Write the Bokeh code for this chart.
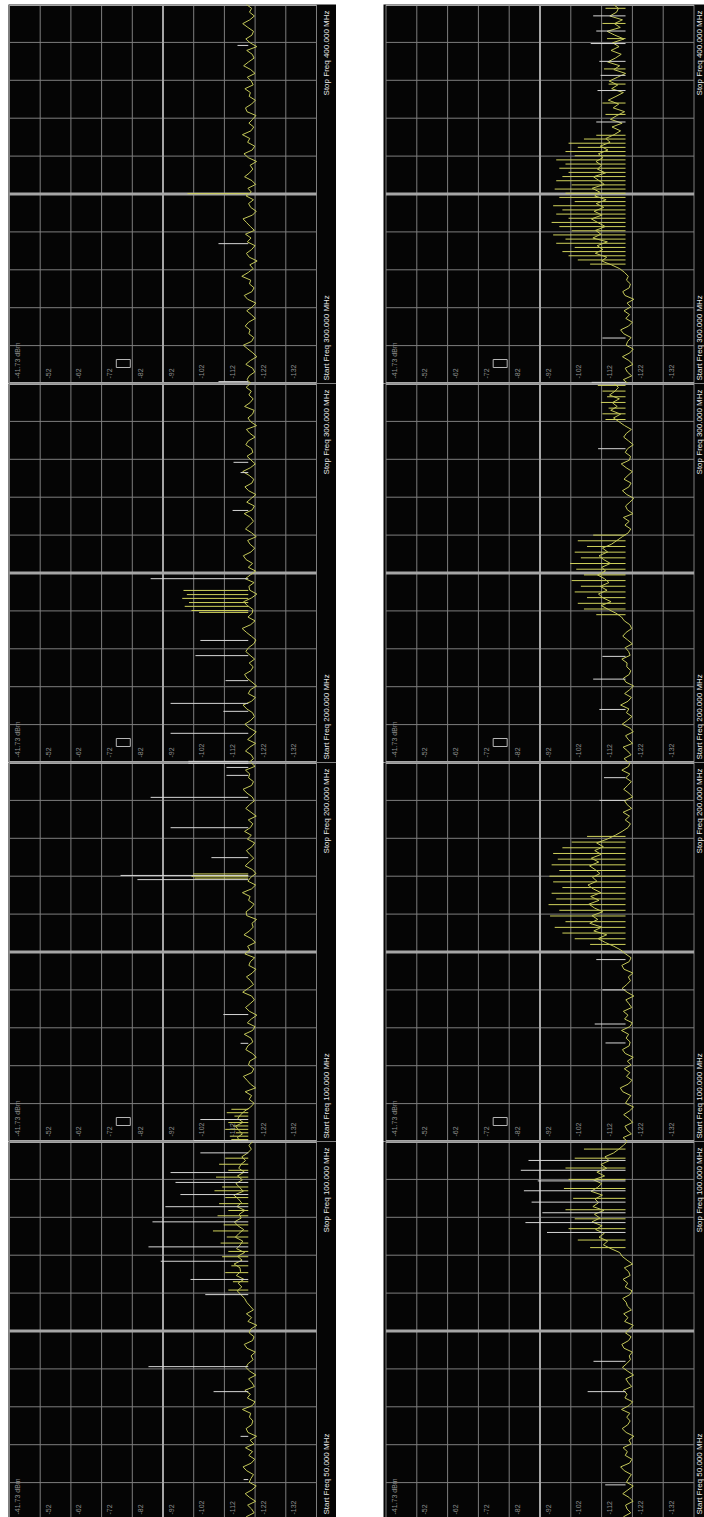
import numpy as np
from bokeh.plotting import figure
from bokeh.layouts import row, column
from bokeh.models import Range1d, Spacer
from bokeh.core.properties import value
from bokeh.embed import file_html
from bokeh.resources import INLINE

# ------------------------------------------------------------------ data
amp_grid = [-41.73, -51.73, -61.73, -71.73, -81.73, -91.73, -101.73,
            -111.73, -121.73, -131.73, -141.73]
amp_labels = ["-41.73 dBm", "-52", "-62", "-72", "-82", "-92", "-102",
              "-112", "-122", "-132"]
screen_start = [300.0, 200.0, 100.0, 50.0]
screen_stop = [400.0, 300.0, 200.0, 100.0]
stop_texts = ["Stop Freq 400.000 MHz", "Stop Freq 300.000 MHz",
              "Stop Freq 200.000 MHz", "Stop Freq 100.000 MHz"]
start_texts = ["Start Freq 300.000 MHz", "Start Freq 200.000 MHz",
               "Start Freq 100.000 MHz", "Start Freq 50.000 MHz"]
spike_base = -119.5

# ---- left panel (noise traces, dBm, evenly spread from start to stop)
left_noise_1 = [-120.4, -119.1, -119.8, -121.6, -120.9, -118.7, -120.2, -122.3, -121.0, -119.4,
                -117.9, -120.6, -121.3, -119.7, -120.1, -118.5, -119.6, -121.8, -120.5, -119.0,
                -120.8, -122.0, -119.3, -118.2, -120.7, -121.4, -119.9, -120.3, -117.4, -119.5,
                -121.1, -120.0, -122.4, -119.8, -118.9, -120.6, -121.7, -119.2, -120.4, -118.6,
                -121.5, -120.2, -119.0, -117.8, -120.9, -122.1, -120.3, -119.6, -121.2, -118.8,
                -120.5, -119.4, -121.9, -120.7, -118.3, -119.9, -121.0, -120.1, -122.2, -119.5,
                -118.1, -120.8, -121.6, -119.3, -120.0, -117.6, -120.4, -121.3, -119.7, -120.9,
                -122.0, -119.1, -118.6, -120.6, -121.8, -119.8, -120.2, -118.4, -121.1, -120.5,
                -119.2, -121.7, -120.3, -118.0, -119.6, -121.4, -120.8, -119.0, -122.3, -120.1,
                -118.7, -120.7, -121.2, -119.4, -117.7, -120.0, -121.5, -119.9, -120.6, -118.9]
left_noise_2 = [-119.7, -121.2, -120.5, -118.6, -120.0, -121.9, -119.3, -120.8, -122.1, -119.9,
                -118.4, -120.3, -121.5, -120.9, -119.0, -117.8, -120.6, -121.8, -119.5, -120.2,
                -122.2, -120.7, -119.1, -118.3, -120.4, -121.1, -119.8, -121.6, -120.1, -118.7,
                -119.6, -121.3, -122.0, -120.5, -118.9, -117.5, -120.3, -121.7, -119.4, -120.8,
                -121.0, -119.2, -118.0, -120.6, -122.3, -120.0, -119.7, -121.4, -118.5, -120.2,
                -121.9, -119.5, -120.9, -118.8, -117.9, -120.4, -121.6, -120.1, -119.3, -122.1,
                -120.6, -118.6, -119.9, -121.2, -120.3, -118.2, -120.8, -121.5, -119.0, -120.5,
                -122.0, -119.6, -118.4, -120.7, -121.3, -119.8, -117.7, -120.2, -121.8, -120.4,
                -119.1, -121.0, -120.6, -118.7, -119.5, -121.7, -120.0, -118.9, -122.2, -120.3,
                -119.4, -120.9, -121.4, -118.3, -120.1, -121.1, -119.7, -120.5, -118.8, -120.2]
left_noise_3 = [-117.2, -115.9, -117.6, -116.3, -115.4, -117.8, -116.1, -117.0, -118.4, -120.3,
                -121.4, -119.8, -120.6, -118.5, -121.9, -120.2, -119.1, -117.9, -120.7, -121.3,
                -119.6, -120.0, -122.1, -120.8, -118.7, -119.4, -121.0, -120.4, -118.2, -120.9,
                -121.7, -119.2, -120.5, -122.3, -119.9, -118.6, -120.1, -121.5, -120.6, -117.7,
                -119.5, -121.2, -120.3, -118.9, -120.8, -122.0, -119.7, -120.2, -121.6, -118.4,
                -120.0, -119.3, -121.8, -120.5, -118.1, -119.9, -121.1, -120.7, -122.2, -119.0,
                -118.8, -120.4, -121.4, -119.6, -120.1, -117.6, -120.6, -121.9, -119.4, -120.3,
                -122.0, -120.9, -118.5, -119.8, -121.3, -120.0, -118.9, -120.7, -121.6, -119.2,
                -120.5, -118.3, -120.2, -121.0, -119.5, -122.1, -120.4, -118.7, -119.9, -121.5,
                -120.8, -119.1, -117.8, -120.6, -121.2, -119.6, -120.0, -118.6, -121.7, -120.3]
left_noise_4 = [-120.2, -118.9, -121.4, -120.6, -119.3, -121.9, -120.0, -118.5, -120.7, -122.1,
                -119.8, -120.4, -121.2, -119.0, -117.8, -120.5, -121.6, -119.7, -120.9, -118.6,
                -121.3, -120.1, -122.2, -119.4, -118.8, -120.6, -121.0, -119.9, -120.3, -117.6,
                -120.8, -121.7, -119.2, -120.2, -118.4, -121.5, -120.7, -119.6, -122.0, -120.0,
                -118.7, -119.5, -121.1, -120.4, -121.8, -119.1, -118.2, -120.9, -121.4, -119.8,
                -120.3, -122.3, -119.4, -120.6, -118.9, -121.2, -120.1, -119.0, -118.3, -117.1,
                -115.9, -117.4, -116.2, -118.1, -115.6, -117.0, -116.8, -114.9, -117.5, -116.0,
                -118.3, -115.7, -116.9, -117.7, -115.3, -116.5, -118.0, -116.1, -115.0, -117.2,
                -116.6, -118.4, -115.8, -117.3, -116.3, -114.8, -117.9, -116.7, -115.5, -117.6,
                -116.0, -118.2, -116.4, -117.1, -118.6, -117.4, -119.3, -120.5, -119.7, -121.0]

# ---- left panel spikes: white (grey) and yellow lines (MHz, peak dBm)
left_white_f_1 = [389.2, 336.9, 300.5]
left_white_db_1 = [-116.0, -109.8, -109.8]
left_yel_f_1 = [350.1]
left_yel_db_1 = [-99.7]

left_white_f_2 = [279.2, 276.5, 266.5, 248.5, 232.2, 228.2, 221.6, 215.6, 213.5, 207.7, 200.3]
left_white_db_2 = [-114.7, -117.0, -114.4, -87.7, -103.9, -102.3, -112.1, -94.2, -111.4, -94.2, -100.0]
left_yel_f_2 = [245.4, 244.3, 243.3, 242.2, 241.2, 240.1, 239.6]
left_yel_db_2 = [-98.4, -99.5, -98.0, -100.2, -98.8, -101.0, -103.5]

left_white_f_3 = [199.8, 198.7, 196.6, 190.8, 182.8, 174.9, 170.2, 169.1, 133.5, 125.9, 105.8, 100.2]
left_white_db_3 = [-100.0, -112.4, -112.4, -87.7, -94.2, -107.5, -77.9, -83.4, -111.4, -117.0, -103.9, -101.7]
left_yel_f_3 = [170.6, 170.0, 169.5, 108.5, 107.6, 106.7, 105.0, 104.1, 103.2, 102.3, 101.4, 100.5]
left_yel_db_3 = [-101.6, -101.0, -102.0, -114.0, -112.5, -115.0, -113.0, -114.5, -112.0, -115.5, -113.5, -114.0]

left_white_f_4 = [98.5, 95.9, 94.6, 93.0, 91.4, 89.4, 86.1, 84.2, 81.8, 79.8, 70.3, 67.0, 61.1, 55.4]
left_white_db_4 = [-103.9, -94.2, -95.8, -97.4, -92.5, -88.3, -87.0, -91.0, -100.7, -105.5,
                   -87.0, -108.2, -117.0, -118.0]
left_yel_f_4 = [97.8, 97.0, 96.2, 95.3, 94.0, 93.5, 92.6, 91.8, 90.9, 90.2,
                89.0, 88.2, 87.4, 86.6, 85.5, 84.8, 83.6, 82.7, 81.5, 80.4]
left_yel_db_4 = [-112.0, -110.0, -113.0, -109.0, -111.0, -108.5, -112.0, -110.0, -113.0, -109.5,
                 -111.5, -108.0, -112.5, -110.5, -113.0, -111.0, -114.0, -112.0, -114.5, -113.0]

# ---- right panel
right_noise_1 = [-120.3, -118.8, -121.5, -120.1, -119.4, -121.9, -120.6, -118.5, -120.9, -122.0,
                 -119.7, -120.2, -121.3, -118.9, -117.9, -120.5, -121.7, -119.6, -120.8, -119.0,
                 -121.2, -120.0, -122.2, -119.3, -118.6, -120.7, -121.1, -119.8, -120.4, -119.2,
                 -117.6, -114.9, -111.8, -113.4, -109.7, -112.1, -110.3, -113.6, -108.9, -111.5,
                 -109.8, -112.9, -110.6, -108.4, -111.9, -109.3, -112.4, -110.0, -113.2, -109.5,
                 -111.1, -108.7, -112.6, -110.9, -109.1, -113.0, -110.4, -111.7, -109.9, -112.2,
                 -110.7, -113.8, -111.3, -114.5, -113.1, -115.8, -117.9, -115.1, -118.4, -114.6,
                 -116.7, -119.2, -115.5, -117.3, -113.9, -116.4, -118.8, -115.0, -117.0, -114.2,
                 -116.9, -119.5, -115.7, -117.6, -113.7, -116.2, -118.1, -114.8, -117.4, -115.3,
                 -119.0, -116.0, -113.5, -117.8, -115.9, -118.5, -114.4, -116.6, -117.2, -115.6]
right_noise_2 = [-120.5, -119.0, -121.3, -120.2, -118.7, -121.8, -120.4, -119.5, -122.0, -120.9,
                 -118.4, -120.1, -121.6, -119.8, -120.6, -117.9, -120.3, -121.4, -119.2, -120.8,
                 -122.1, -119.6, -118.8, -120.7, -121.2, -119.9, -120.0, -118.3, -121.0, -120.5,
                 -119.4, -121.7, -120.2, -118.6, -119.7, -121.5, -120.9, -119.1, -118.2, -116.4,
                 -113.9, -111.6, -114.8, -112.2, -110.7, -113.5, -111.3, -114.1, -112.7, -110.4,
                 -113.0, -111.8, -114.6, -112.4, -110.9, -113.7, -112.0, -114.9, -116.7, -118.5,
                 -120.4, -121.2, -119.3, -120.7, -118.8, -121.9, -120.1, -119.5, -120.9, -122.2,
                 -119.9, -118.5, -120.6, -121.3, -119.0, -120.3, -121.7, -119.7, -118.1, -120.8,
                 -121.1, -119.4, -120.2, -122.0, -120.5, -118.9, -119.8, -121.4, -119.2, -117.4,
                 -115.6, -117.9, -114.7, -116.8, -115.2, -117.5, -114.3, -116.1, -117.2, -115.8]
right_noise_3 = [-120.2, -118.7, -121.4, -120.0, -119.3, -121.8, -120.6, -118.9, -120.8, -122.1,
                 -119.5, -120.3, -121.2, -118.6, -117.8, -120.4, -121.6, -119.8, -120.9, -119.1,
                 -121.3, -120.1, -122.0, -119.4, -118.5, -120.7, -121.0, -119.7, -120.5, -118.2,
                 -120.9, -121.7, -119.2, -120.3, -118.8, -121.5, -120.6, -119.6, -122.2, -120.0,
                 -118.4, -119.9, -121.1, -120.4, -121.9, -119.0, -118.3, -120.7, -121.3, -119.5,
                 -118.0, -115.7, -112.9, -110.6, -113.4, -109.2, -111.8, -107.9, -110.5, -108.6,
                 -112.1, -109.4, -107.6, -110.9, -108.2, -111.5, -109.0, -107.3, -110.2, -108.8,
                 -111.2, -109.7, -107.8, -110.8, -108.4, -111.6, -109.5, -112.3, -110.1, -113.6,
                 -116.2, -118.4, -120.3, -121.1, -119.4, -120.8, -118.7, -121.5, -120.0, -119.2,
                 -121.8, -120.6, -118.9, -120.2, -121.4, -119.6, -120.9, -118.3, -120.5, -121.0]
right_noise_4 = [-120.4, -118.9, -121.2, -120.0, -119.5, -121.9, -120.7, -118.6, -120.3, -122.0,
                 -119.8, -120.5, -121.4, -119.1, -117.9, -120.8, -121.6, -119.4, -120.1, -118.7,
                 -121.3, -120.6, -122.2, -119.7, -118.4, -120.2, -121.0, -119.9, -120.9, -118.2,
                 -120.6, -121.8, -119.3, -120.0, -118.8, -121.5, -120.4, -119.6, -122.1, -120.2,
                 -118.5, -119.9, -121.1, -120.7, -121.7, -119.0, -118.3, -120.5, -121.3, -119.5,
                 -120.8, -122.0, -119.2, -120.3, -118.9, -121.4, -120.1, -119.7, -118.6, -120.9,
                 -121.6, -119.4, -120.2, -118.7, -121.0, -120.5, -119.1, -121.8, -120.0, -118.4,
                 -117.6, -114.8, -112.3, -113.7, -110.9, -112.6, -109.8, -111.9, -108.6, -111.2,
                 -109.4, -112.5, -108.9, -110.7, -109.6, -112.0, -108.3, -110.4, -111.8, -109.1,
                 -112.7, -110.2, -113.4, -111.5, -114.2, -112.8, -115.6, -117.3, -118.8, -120.1]

right_white_f_1 = [369.0, 377.3, 381.3, 385.0, 389.7, 393.0, 397.0, 300.3, 312.0]
right_white_db_1 = [-110.0, -110.4, -111.4, -111.0, -108.2, -110.0, -109.0, -108.5, -112.0]
right_yel_f_1 = [331.5, 332.6, 333.7, 334.8, 335.9, 337.0, 338.1, 339.2, 340.3, 341.4,
                 342.5, 343.6, 344.7, 345.8, 346.9, 348.0, 349.1, 350.2, 351.3, 352.4,
                 353.5, 354.6, 355.7, 356.8, 357.9, 359.0, 360.1, 361.2, 362.3, 363.4,
                 364.5, 365.5, 371.0, 374.0, 379.0, 383.0, 391.0, 395.0, 399.0]
right_yel_db_1 = [-108.0, -104.0, -101.0, -99.0, -103.0, -97.0, -100.0, -96.0, -102.0, -98.0,
                  -95.5, -101.0, -97.0, -99.0, -96.0, -103.0, -98.0, -100.0, -96.5, -102.0,
                  -97.0, -99.0, -101.0, -98.0, -100.0, -97.0, -103.0, -100.0, -104.0, -101.0,
                  -106.0, -110.0, -113.0, -112.0, -114.0, -112.5, -113.5, -112.0, -113.0]

right_white_f_2 = [282.8, 228.0, 222.0, 214.0]
right_white_db_2 = [-110.6, -112.0, -109.0, -111.0]
right_yel_f_2 = [299.5, 298.0, 296.5, 295.0, 293.5, 292.0, 290.5,
                 239.0, 240.5, 242.0, 243.5, 245.0, 246.5, 248.0, 249.5, 251.0,
                 252.5, 254.0, 255.5, 257.0, 258.5, 260.0]
right_yel_db_2 = [-110.5, -112.0, -113.5, -111.5, -114.0, -112.0, -113.0,
                  -110.0, -106.0, -104.0, -107.0, -103.0, -105.0, -102.0, -106.0, -103.5,
                  -101.5, -105.0, -103.0, -107.0, -104.0, -109.0]

right_white_f_3 = [196.0, 190.0, 148.0, 140.0, 131.0, 126.0]
right_white_db_3 = [-112.5, -111.0, -110.0, -112.0, -109.5, -113.0]
right_yel_f_3 = [152.0, 153.5, 155.0, 156.5, 158.0, 159.5, 161.0, 162.5, 164.0, 165.5,
                 167.0, 168.5, 170.0, 171.5, 173.0, 174.5, 176.0, 177.5, 179.0, 180.5]
right_yel_db_3 = [-108.0, -103.0, -99.0, -96.5, -100.0, -95.0, -98.0, -94.5, -97.0, -95.5,
                  -99.0, -96.0, -94.8, -98.0, -95.5, -97.5, -96.0, -99.0, -102.0, -107.0]

right_white_f_4 = [97.5, 96.2, 94.8, 93.5, 92.0, 90.6, 89.3, 88.0, 71.0, 67.0, 54.7]
right_white_db_4 = [-88.0, -85.5, -91.0, -86.5, -89.0, -92.5, -87.0, -94.0, -109.1, -107.2, -112.9]
right_yel_f_4 = [86.0, 87.0, 88.5, 89.8, 91.0, 92.5, 93.8, 95.0, 96.5, 97.8, 99.0]
right_yel_db_4 = [-108.0, -104.0, -101.0, -103.0, -100.0, -102.5, -99.5, -101.0, -100.0, -103.0, -106.0]

left_data = [
    (left_noise_1, left_white_f_1, left_white_db_1, left_yel_f_1, left_yel_db_1),
    (left_noise_2, left_white_f_2, left_white_db_2, left_yel_f_2, left_yel_db_2),
    (left_noise_3, left_white_f_3, left_white_db_3, left_yel_f_3, left_yel_db_3),
    (left_noise_4, left_white_f_4, left_white_db_4, left_yel_f_4, left_yel_db_4),
]
right_data = [
    (right_noise_1, right_white_f_1, right_white_db_1, right_yel_f_1, right_yel_db_1),
    (right_noise_2, right_white_f_2, right_white_db_2, right_yel_f_2, right_yel_db_2),
    (right_noise_3, right_white_f_3, right_white_db_3, right_yel_f_3, right_yel_db_3),
    (right_noise_4, right_white_f_4, right_white_db_4, right_yel_f_4, right_yel_db_4),
]

# ------------------------------------------------------------------ style / layout
BG = "#050505"
GRID = "#7e7e7e"
THICK = "#a6a6a6"
TRACE = "#c4c85a"
WHITE = "#d6d6d6"
YEL = "#d0d25c"
LABEL = "#8f8f8f"
STRIP_TXT = "#e8e8e8"
FONT = value("Liberation Sans")

FULL_H = 379.0
heights = [379, 379, 379, 376]
cut_top = [0, 0, 0, 0]
cut_bot = [0, 0, 0, 3]

left_panel = dict(width=328, ppd=3.07, pad_l=1.0, pad_r=20.0, strip_off=10.0)
right_panel = dict(width=321, ppd=3.08, pad_l=2.5, pad_r=10.5, strip_off=5.5)

TOP_DB = amp_grid[0]
BOT_DB = amp_grid[-1]
MID_DB = amp_grid[5]


def build_screen(k, panel, data):
    noise, wf, wdb, yf, ydb = data
    start, stop = screen_start[k], screen_stop[k]
    ppm = FULL_H / (stop - start)          # pixels per MHz
    lo = start + cut_bot[k] / ppm
    hi = stop - cut_top[k] / ppm
    xr = Range1d(TOP_DB + panel["pad_l"] / panel["ppd"],
                 BOT_DB - panel["pad_r"] / panel["ppd"])
    p = figure(width=panel["width"], height=heights[k], x_range=xr,
               y_range=Range1d(lo, hi), x_axis_type=None, y_axis_type=None,
               toolbar_location=None, output_backend="svg", min_border=0,
               background_fill_color=BG, border_fill_color=BG,
               outline_line_color=None)

    fgrid = [start + (stop - start) * i / 10.0 for i in range(11)]
    # graticule
    p.segment(x0=TOP_DB, x1=BOT_DB, y0=fgrid, y1=fgrid,
              line_color=GRID, line_width=1)
    p.segment(x0=amp_grid, x1=amp_grid, y0=start, y1=stop,
              line_color=GRID, line_width=1)
    p.segment(x0=MID_DB, x1=MID_DB, y0=start, y1=stop,
              line_color=THICK, line_width=2)
    p.segment(x0=TOP_DB, x1=BOT_DB, y0=[start, fgrid[5], stop],
              y1=[start, fgrid[5], stop], line_color=THICK, line_width=3)

    # trace
    freqs = np.linspace(start, stop, len(noise))
    p.segment(x0=ydb, x1=spike_base, y0=yf, y1=yf, line_color=YEL, line_width=1)
    p.line(noise, freqs, line_color=TRACE, line_width=1)
    p.segment(x0=wdb, x1=spike_base, y0=wf, y1=wf, line_color=WHITE, line_width=1)

    # amplitude labels
    lab_off = 5.0 if k < 3 else 3.0
    p.text(x=amp_grid[:10], y=lo + lab_off / ppm, text=amp_labels,
           angle=np.pi / 2, x_offset=8, text_align="left",
           text_baseline="middle", text_font=FONT, text_font_size="7px",
           text_color=LABEL)
    if k < 3:
        p.rect(x=-78.8, y=lo + 20.0 / ppm, width=14, height=8,
               width_units="screen", height_units="screen",
               fill_color=None, line_color="#b5b5b5", line_width=1)

    # frequency strip
    p.text(x=BOT_DB, y=stop - 6.0 / ppm, text=[stop_texts[k]], angle=np.pi / 2,
           x_offset=panel["strip_off"], text_align="right", text_baseline="middle",
           text_font=FONT, text_font_size="8px", text_color=STRIP_TXT)
    p.text(x=BOT_DB, y=lo + 3.0 / ppm, text=[start_texts[k]], angle=np.pi / 2,
           x_offset=panel["strip_off"], text_align="left", text_baseline="middle",
           text_font=FONT, text_font_size="8px", text_color=STRIP_TXT)
    return p


left_col = column([Spacer(width=328, height=4)] +
                  [build_screen(k, left_panel, left_data[k]) for k in range(4)], spacing=0)
right_col = column([Spacer(width=321, height=4)] +
                   [build_screen(k, right_panel, right_data[k]) for k in range(4)], spacing=0)
p = row([Spacer(width=8, height=1517), left_col, Spacer(width=47, height=1517), right_col],
        spacing=0)

open("out.html", "w").write(file_html(p, INLINE))
